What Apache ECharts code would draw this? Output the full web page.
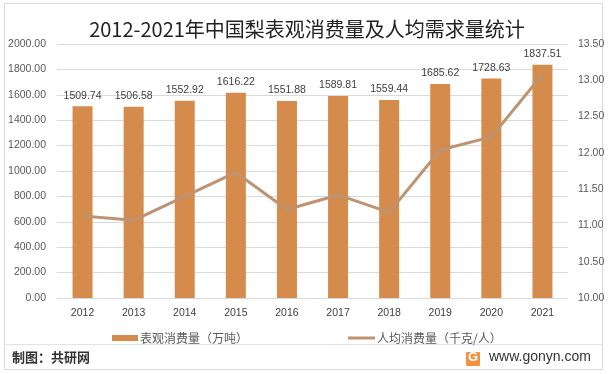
<!DOCTYPE html>
<html>
<head>
<meta charset="utf-8">
<script src="https://cdn.jsdelivr.net/npm/echarts@6/dist/echarts.min.js"></script>
<style>
html,body{margin:0;padding:0;background:#fff;}
#c{width:614px;height:374px;}
</style>
</head>
<body>
<div id="c"></div>
<script>
var years = ['2012','2013','2014','2015','2016','2017','2018','2019','2020','2021'];
var consumption = [1509.74,1506.58,1552.92,1616.22,1551.88,1589.81,1559.44,1685.62,1728.63,1837.51];
var perCapita = [11.13,11.07,11.40,11.73,11.22,11.42,11.18,12.04,12.22,13.08];
var titleText = '2012-2021年中国梨表观消费量及人均需求量统计';
var barName = '表观消费量（万吨）';
var lineName = '人均消费量（千克/人）';

var numFont = '"Liberation Sans", Arial, sans-serif';
var cjkFont = '"Noto Sans CJK SC", "Noto Sans", sans-serif';
var legendText = {fontFamily: cjkFont, fontSize: 12, color: '#595959', padding: [0,0,0,-3]};

var chart = echarts.init(document.getElementById('c'), null, {renderer: 'canvas'});
chart.setOption({
  backgroundColor: '#fff',
  animation: false,
  title: {
    text: titleText,
    left: 'center',
    top: 14,
    textStyle: {fontFamily: cjkFont, fontSize: 20, fontWeight: 'normal', color: '#222'}
  },
  grid: {left: 57, right: 46, top: 44, bottom: 76},
  legend: [
    {
      left: 107, top: 327, itemWidth: 26, itemHeight: 6,
      textStyle: legendText,
      data: [{name: barName, icon: 'rect'}]
    },
    {
      left: 343, top: 327, itemWidth: 27, itemHeight: 3,
      textStyle: legendText,
      data: [{name: lineName, icon: 'rect'}]
    }
  ],
  xAxis: {
    type: 'category',
    data: years,
    axisTick: {show: false},
    axisLine: {lineStyle: {color: '#d9d9d9'}},
    axisLabel: {fontFamily: numFont, fontSize: 10.5, color: '#404040', margin: 10}
  },
  yAxis: [
    {
      type: 'value', min: 0, max: 2000, interval: 200,
      axisLine: {show: false}, axisTick: {show: false},
      splitLine: {lineStyle: {color: '#d9d9d9'}},
      axisLabel: {fontFamily: numFont, fontSize: 10.5, color: '#595959', margin: 11,
        formatter: function (v) { return v.toFixed(2); }}
    },
    {
      type: 'value', min: 10, max: 13.5, interval: 0.5,
      axisLine: {show: false}, axisTick: {show: false},
      splitLine: {show: false},
      axisLabel: {fontFamily: numFont, fontSize: 10.5, color: '#595959', margin: 10,
        formatter: function (v) { return v.toFixed(2); }}
    }
  ],
  series: [
    {
      name: barName,
      type: 'bar',
      data: consumption,
      barWidth: 20,
      itemStyle: {color: '#D48B4C'},
      label: {show: true, position: 'top', distance: 5, fontFamily: numFont, fontSize: 10.5, color: '#404040',
        formatter: function (p) { return p.value.toFixed(2); }}
    },
    {
      name: lineName,
      type: 'line',
      yAxisIndex: 1,
      data: perCapita,
      symbol: 'none',
      lineStyle: {color: '#BE9373', width: 3},
      itemStyle: {color: '#BE9373'}
    }
  ],
  graphic: [
    {type: 'rect', shape: {x: 4.5, y: 3.5, width: 598, height: 366}, style: {fill: null, stroke: '#d9d9d9', lineWidth: 1}, silent: true},
    {type: 'line', shape: {x1: 5, y1: 344.5, x2: 602, y2: 344.5}, style: {stroke: '#e3e3e3', lineWidth: 1}},
    {type: 'text', left: 12, top: 351, style: {text: '制图：共研网', fontFamily: cjkFont, fontSize: 13, fontWeight: 'bold', fill: '#333'}},
    {type: 'rect', shape: {x: 466, y: 352, width: 14, height: 14, r: 1}, style: {fill: '#F3913F'}},
    {type: 'text', left: 468, top: 351, style: {text: 'G', fontFamily: numFont, fontSize: 13, fontWeight: 'bold', fill: '#fff'}},
    {type: 'text', left: 489, top: 350, style: {text: 'www.gonyn.com', fontFamily: numFont, fontSize: 14, fill: '#333'}}
  ]
});
</script>
</body>
</html>
